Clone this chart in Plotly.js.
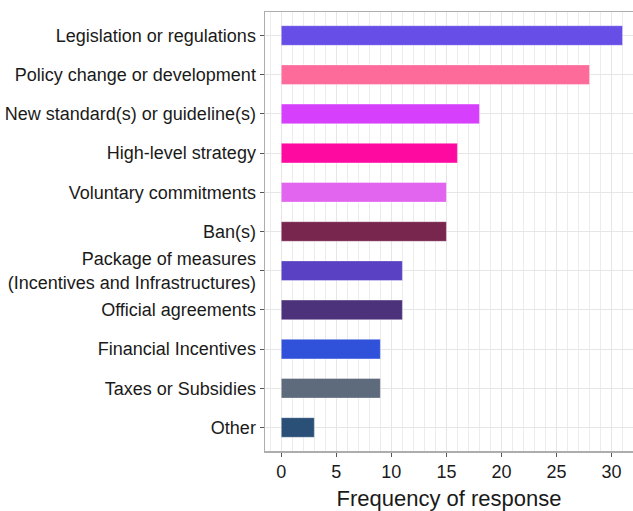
<!DOCTYPE html>
<html>
<head>
<meta charset="utf-8">
<script src="https://cdn.plot.ly/plotly-3.0.1.min.js"></script>
<style>html,body{margin:0;padding:0;background:#fff;}#chart{width:633px;height:511px;}</style>
</head>
<body>
<div id="chart"></div>
<script>
const categories = [
  "Legislation or regulations",
  "Policy change or development",
  "New standard(s) or guideline(s)",
  "High-level strategy",
  "Voluntary commitments",
  "Ban(s)",
  "Package of measures<br>(Incentives and Infrastructures)",
  "Official agreements",
  "Financial Incentives",
  "Taxes or Subsidies",
  "Other"
];
const frequency = [31, 28, 18, 16, 15, 15, 11, 11, 9, 9, 3];
const barColors = ["#674ee6", "#fd6b9b", "#d63ffc", "#fe0aa0", "#e165ee", "#78264e",
                   "#5a41c3", "#4b327a", "#3052da", "#5e6b7c", "#2b5078"];
const xTicks = [0, 5, 10, 15, 20, 25, 30];

const trace = {
  type: "bar",
  orientation: "h",
  y: categories,
  x: frequency,
  width: 0.5,
  marker: {color: barColors, line: {color: "rgba(255,255,255,0.35)", width: 1}},
  hoverinfo: "x+y"
};

const layout = {
  width: 633, height: 511,
  margin: {l: 265, r: 0, t: 12, b: 60},
  paper_bgcolor: "#fff", plot_bgcolor: "#fff",
  font: {family: "Liberation Sans, Arial, sans-serif", color: "#1a1a1a"},
  showlegend: false,
  bargap: 0.5,
  xaxis: {
    range: [-1.48, 31.95],
    tickvals: xTicks,
    ticktext: xTicks.map(String),
    ticks: "outside", ticklen: 4, tickcolor: "#555", tickwidth: 1,
    tickfont: {size: 18, color: "#1a1a1a"},
    showgrid: true, gridcolor: "#e6e6e6", gridwidth: 1,
    minor: {dtick: 1, showgrid: true, gridcolor: "#ececec", gridwidth: 1},
    showline: true, linecolor: "#adadad", linewidth: 1.5, mirror: true,
    zeroline: false,
    title: {text: "Frequency of response", font: {size: 22, color: "#1a1a1a"}, standoff: 24}
  },
  yaxis: {
    type: "category",
    autorange: false,
    range: [10.6, -0.6],
    categoryorder: "array", categoryarray: categories,
    ticks: "outside", ticklen: 4, tickcolor: "#555", tickwidth: 1,
    tickfont: {size: 18, color: "#1a1a1a"},
    showgrid: true, gridcolor: "#e6e6e6", gridwidth: 1,
    showline: true, linecolor: "#adadad", linewidth: 1.5,
    zeroline: false
  }
};

Plotly.newPlot("chart", [trace], layout, {displayModeBar: false, staticPlot: true});
</script>
</body>
</html>
